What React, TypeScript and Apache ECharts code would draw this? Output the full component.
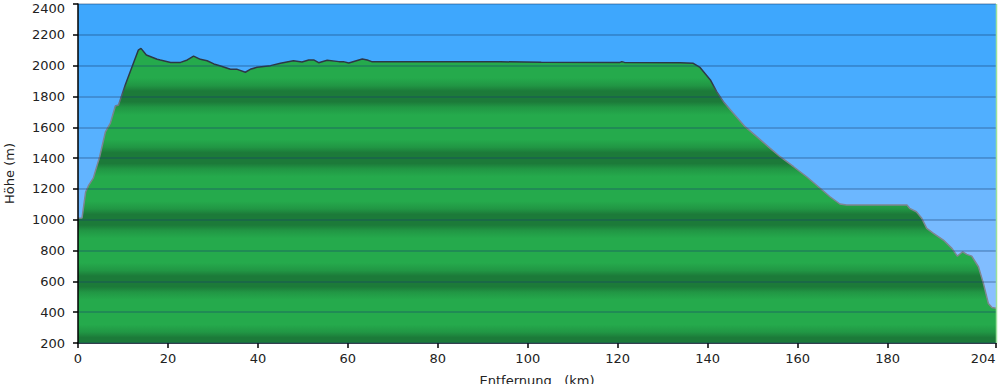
import React, { useEffect, useRef } from "react";
import * as echarts from "echarts";

const distancesKm = [
  0, 0.9, 1.7, 2.4, 3.4, 4.8, 6.1, 7.2, 8.3, 9.0, 10.5, 13.4, 14.0, 15.2, 17.6, 18.3,
  20.6, 22.8, 24.3, 25.7, 27.2, 28.7, 30.2, 31.7, 33.9, 35.4, 37.2, 38.3, 39.8, 42.8,
  45.0, 47.9, 49.8, 51.3, 52.4, 53.5, 55.4, 58.0, 59.0, 60.2, 63.2, 64.3, 65.3, 75.4,
  93.9, 103.0, 120.5, 120.9, 121.5, 133.9, 136.8, 138.3, 140.6, 142.0, 143.5, 145.7,
  148.3, 150.9, 153.9, 156.1, 159.1, 162.0, 165.0, 167.2, 169.4, 170.9, 184.3, 184.9,
  186.4, 187.6, 188.7, 190.2, 192.4, 194.3, 195.5, 196.7, 197.6, 198.7, 200.2, 201.3,
  202.4, 203.2, 204.1,
];
const elevationsM = [
  1010, 1012, 1180, 1225, 1270, 1407, 1570, 1627, 1738, 1745, 1874, 2100, 2112, 2069, 2041, 2036,
  2021, 2021, 2037, 2062, 2041, 2032, 2011, 1998, 1976, 1976, 1957, 1976, 1989, 2000,
  2015, 2032, 2024, 2037, 2037, 2019, 2035, 2026, 2026, 2017, 2043, 2037, 2026, 2026,
  2025, 2022, 2021, 2026, 2021, 2019, 2015, 1988, 1907, 1831, 1766, 1691,
  1604, 1539, 1463, 1409, 1344, 1279, 1204, 1149, 1102, 1095, 1095, 1074,
  1052, 1009, 944, 912, 868, 814, 764, 792, 775, 764, 695, 587,
  457, 430, 425,
];
const xTickValues = [0, 20, 40, 60, 80, 100, 120, 140, 160, 180, 204];
const yMin = 200;
const yMax = 2400;
const yStep = 200;

const FONT = "DejaVu Sans";

export default function App() {
  const ref = useRef<HTMLDivElement>(null);
  useEffect(() => {
    if (!ref.current) return;
    const chart = echarts.init(ref.current, null, { renderer: "svg" });
    const gridTop = 4;
    const gridBottom = 41;
    const plotBottom = 384 - gridBottom;
    const span = yMax - yMin;
    const off = (v: number) => Math.min(1, Math.max(0, (yMax - v) / span));

    const light = "rgb(37,170,76)";
    const mid = "rgb(33,150,68)";
    const dark = "rgb(28,122,57)";
    const greenStops: any[] = [{ offset: 0, color: light }];
    for (let v = 1800; v >= yMin; v -= 400) {
      greenStops.push({ offset: off(v + 120), color: light });
      greenStops.push({ offset: off(v + 70), color: mid });
      greenStops.push({ offset: off(v + 35), color: dark });
      greenStops.push({ offset: off(v - 35), color: dark });
      greenStops.push({ offset: off(v - 70), color: mid });
      greenStops.push({ offset: off(v - 120), color: light });
    }
    greenStops.sort((a, b) => a.offset - b.offset);

    const blueBands = [
      "#3ea7fd", "#42a9fe", "#48acff", "#50afff", "#57b1ff", "#62b4ff",
      "#6cb7ff", "#77baff", "#81bdff", "#8ac0ff", "#92c3ff",
    ];
    const blueStops: any[] = [];
    blueBands.forEach((c, i) => {
      blueStops.push({ offset: i / blueBands.length, color: c });
      blueStops.push({ offset: (i + 1) / blueBands.length - 0.0001, color: c });
    });

    chart.setOption({
      animation: false,
      grid: {
        left: 78,
        right: 4,
        top: gridTop,
        bottom: gridBottom,
        containLabel: false,
        outerBoundsMode: "none",
        show: true,
        borderWidth: 0,
        backgroundColor: new echarts.graphic.LinearGradient(0, 0, 0, 1, blueStops),
      },
      xAxis: {
        type: "value",
        min: 0,
        max: 204.1,
        name: "Entfernung   (km)",
        nameLocation: "middle",
        nameGap: 31,
        nameTextStyle: { color: "#222", fontFamily: FONT, fontSize: 13, verticalAlign: "top" },
        axisLine: { show: true, lineStyle: { color: "#000", width: 1.5 } },
        axisTick: { show: true, length: 5, lineStyle: { color: "#000", width: 1.5 }, customValues: xTickValues },
        axisLabel: {
          color: "#222", fontFamily: FONT, fontSize: 13, margin: 9,
          customValues: xTickValues, alignMaxLabel: "right",
          formatter: (v: number) => String(v),
        },
        splitLine: { show: false },
      },
      yAxis: {
        type: "value",
        min: yMin,
        max: yMax,
        interval: yStep,
        z: 5,
        name: "Höhe (m)",
        nameLocation: "middle",
        nameRotate: 90,
        nameGap: 62,
        nameTextStyle: { color: "#222", fontFamily: FONT, fontSize: 13 },
        axisLine: { show: true, lineStyle: { color: "#000", width: 1.5 } },
        axisTick: { show: true, length: 5, lineStyle: { color: "#000", width: 1.5 } },
        axisLabel: {
          color: "#222", fontFamily: FONT, fontSize: 13, margin: 13, lineHeight: 9,
          verticalAlignMaxLabel: "top",
          formatter: (v: number) => String(v),
        },
        splitLine: { show: true, lineStyle: { color: "rgba(20,60,110,0.38)", width: 1.5 } },
      },
      graphic: [
        {
          type: "line",
          shape: { x1: 996.5, y1: gridTop, x2: 996.5, y2: plotBottom },
          style: { stroke: "#9be09b", lineWidth: 1.5 },
          z: 10,
        },
      ],
      series: [
        {
          type: "line",
          data: distancesKm.map((d, i) => [d, elevationsM[i]]),
          symbol: "none",
          z: 2,
          lineStyle: {
            width: 1.5,
            color: new echarts.graphic.LinearGradient(
              0, gridTop, 0, plotBottom,
              [
                { offset: 0, color: "#27313e" },
                { offset: off(1880), color: "#2f3a48" },
                { offset: off(1720), color: "#7c8390" },
                { offset: 1, color: "#80878f" },
              ],
              true
            ),
          },
          areaStyle: {
            origin: "start",
            opacity: 1,
            color: new echarts.graphic.LinearGradient(0, gridTop, 0, plotBottom, greenStops, true),
          },
        },
      ],
    });
    return () => chart.dispose();
  }, []);
  return <div ref={ref} style={{ width: 1000, height: 384, position: "absolute", left: 0, top: 0 }} />;
}
